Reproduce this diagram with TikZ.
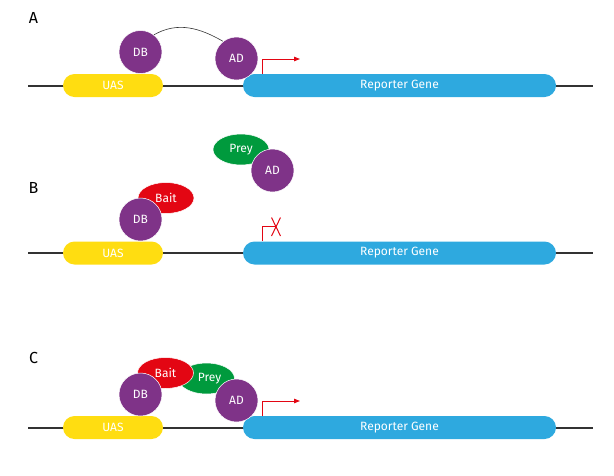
\documentclass[tikz,border=0pt]{standalone}
\usepackage{fontspec}
\setmainfont{Fira Sans}
\usetikzlibrary{arrows.meta,shapes.geometric,backgrounds}
\definecolor{cpurple}{RGB}{127,51,136}
\definecolor{cyellow}{RGB}{255,221,17}
\definecolor{cblue}{RGB}{46,169,223}
\definecolor{cred}{RGB}{227,6,19}
\definecolor{cgreen}{RGB}{0,154,61}
\definecolor{cline}{RGB}{50,50,50}
\begin{document}
\begin{tikzpicture}[x=1pt,y=-1pt,
  lbl/.style={font=\fontsize{16}{17}\selectfont, text=black, inner sep=0},
  gene/.style={rectangle, rounded corners=11.5pt, minimum height=23pt, inner sep=0,
    text=white, font=\fontsize{12}{13}\selectfont},
  uas/.style={gene, fill=cyellow, minimum width=100pt},
  rep/.style={gene, fill=cblue, minimum width=313pt},
  dna/.style={draw=cline, line width=1.3pt},
  prot/.style={circle, fill=cpurple, draw=white, line width=0.5pt, minimum size=43pt,
    inner sep=0, text=white, font=\fontsize{12}{13}\selectfont},
  oval/.style={ellipse, draw=white, line width=0.5pt, minimum width=56pt, minimum height=31pt,
    inner sep=0, text=white, font=\fontsize{12}{13}\selectfont},
  bait/.style={oval, fill=cred},
  prey/.style={oval, fill=cgreen},
  tss/.style={draw=cred, line width=1pt},
  tssarrow/.style={tss, -{Triangle[length=6pt,width=4.5pt]}}
]
\useasboundingbox (0,0) rectangle (614,475);

% ---------- Panel A ----------
\node[lbl] (la) at (33.5,17.5) {A};
\coordinate (a0) at (28,86);
\coordinate (a1) at (593,86);
\draw[dna] (a0) -- (a1);
\node[uas] (uasA) at (113,85.5) {UAS};
\node[rep] (repA) at (399.5,85.5) {Reporter Gene};
\coordinate (tA1) at (262,74);
\coordinate (tA2) at (262,59);
\coordinate (tA3) at (300,59);
\draw[tssarrow] (tA1) -- (tA2) -- (tA3);
\node[prot] (dbA) at (140.5,52) {DB};
\node[prot] (adA) at (236.5,58.5) {AD};
\begin{pgfonlayer}{background}
\draw[cline, line width=0.6pt] (dbA.52) to[out=30,in=150] (adA.128);
\end{pgfonlayer}

% ---------- Panel B ----------
\node[lbl] (lb) at (33.5,187.5) {B};
\coordinate (b0) at (28,253);
\coordinate (b1) at (593,253);
\draw[dna] (b0) -- (b1);
\node[uas] (uasB) at (113,253) {UAS};
\node[rep] (repB) at (399.5,253) {Reporter Gene};
\coordinate (tB1) at (262,241);
\coordinate (tB2) at (262,226.5);
\coordinate (tB3) at (276,226.5);
\draw[tss] (tB1) -- (tB2) -- (tB3);
\coordinate (xb1) at (271.5,217.5);
\coordinate (xb2) at (280.5,236);
\coordinate (xb3) at (280.5,217.5);
\coordinate (xb4) at (271.5,236);
\draw[tss] (xb1) -- (xb2);
\draw[tss] (xb3) -- (xb4);
\node[bait] (baitB) at (166,198) {Bait};
\node[prot] (dbB) at (140.5,219.5) {DB};
\node[prey] (preyB) at (241,149.5) {Prey};
\node[prot] (adB) at (272.5,170.5) {AD};

% ---------- Panel C ----------
\node[lbl] (lc) at (33.5,358) {C};
\coordinate (c0) at (28,428);
\coordinate (c1) at (593,428);
\draw[dna] (c0) -- (c1);
\node[uas] (uasC) at (113,427.5) {UAS};
\node[rep] (repC) at (399.5,427.5) {Reporter Gene};
\coordinate (tC1) at (262,416);
\coordinate (tC2) at (262,401);
\coordinate (tC3) at (300,401);
\draw[tssarrow] (tC1) -- (tC2) -- (tC3);
\node[prey] (preyC) at (206.5,378.5) {\hspace*{6pt}Prey};
\node[bait] (baitC) at (165.5,373) {Bait};
\node[prot] (dbC) at (140.5,394.5) {DB};
\node[prot] (adC) at (236.5,400.5) {AD};
\end{tikzpicture}
\end{document}
